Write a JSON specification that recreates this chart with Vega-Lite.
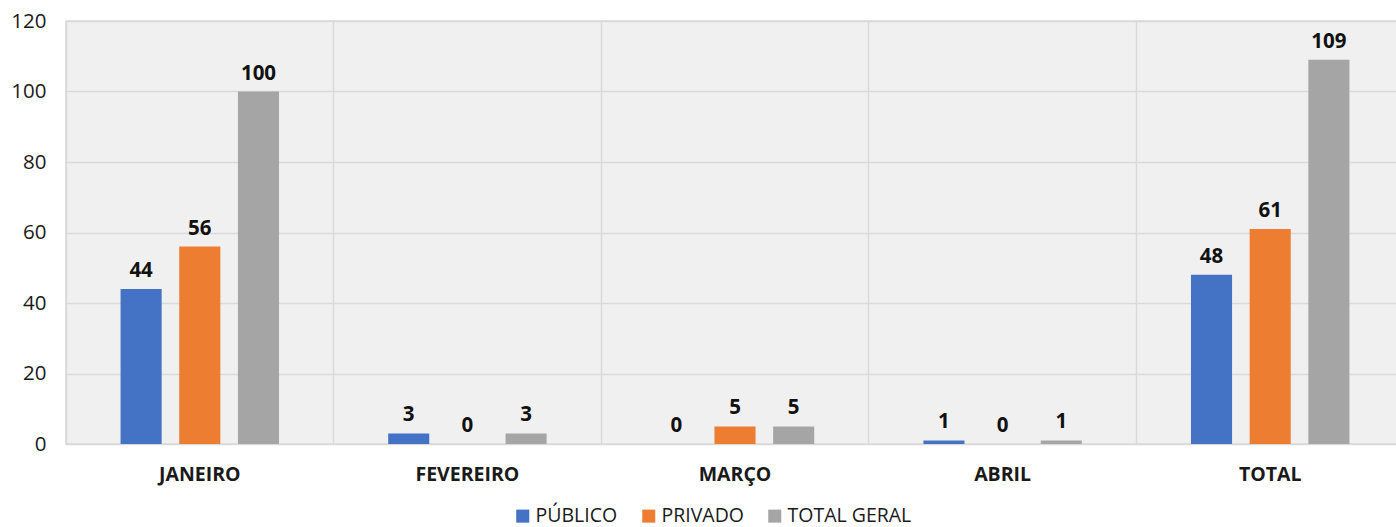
{
  "$schema": "https://vega.github.io/schema/vega-lite/v6.json",
  "autosize": "none",
  "width": 1338,
  "height": 423,
  "padding": {"left": 66, "top": 21, "right": 0, "bottom": 83},
  "background": "white",
  "config": {
    "font": "Open Sans",
    "view": {"fill": "#f0f0f0", "stroke": "#d9d9d9", "strokeWidth": 1.5}
  },
  "data": {
    "values": [
      {"mes": "JANEIRO", "serie": "PÚBLICO", "valor": 44},
      {"mes": "JANEIRO", "serie": "PRIVADO", "valor": 56},
      {"mes": "JANEIRO", "serie": "TOTAL GERAL", "valor": 100},
      {"mes": "FEVEREIRO", "serie": "PÚBLICO", "valor": 3},
      {"mes": "FEVEREIRO", "serie": "PRIVADO", "valor": 0},
      {"mes": "FEVEREIRO", "serie": "TOTAL GERAL", "valor": 3},
      {"mes": "MARÇO", "serie": "PÚBLICO", "valor": 0},
      {"mes": "MARÇO", "serie": "PRIVADO", "valor": 5},
      {"mes": "MARÇO", "serie": "TOTAL GERAL", "valor": 5},
      {"mes": "ABRIL", "serie": "PÚBLICO", "valor": 1},
      {"mes": "ABRIL", "serie": "PRIVADO", "valor": 0},
      {"mes": "ABRIL", "serie": "TOTAL GERAL", "valor": 1},
      {"mes": "TOTAL", "serie": "PÚBLICO", "valor": 48},
      {"mes": "TOTAL", "serie": "PRIVADO", "valor": 61},
      {"mes": "TOTAL", "serie": "TOTAL GERAL", "valor": 109}
    ]
  },
  "encoding": {
    "x": {
      "field": "mes",
      "type": "nominal",
      "sort": ["JANEIRO", "FEVEREIRO", "MARÇO", "ABRIL", "TOTAL"],
      "scale": {"paddingInner": 0, "paddingOuter": 0},
      "axis": {
        "title": null,
        "grid": true,
        "bandPosition": 0,
        "gridColor": "#d9d9d9",
        "gridWidth": 1.5,
        "domain": false,
        "ticks": false,
        "labelAngle": 0,
        "labelFontSize": 19.5,
        "labelFontWeight": "bold",
        "labelColor": "#1a1a1a",
        "labelPadding": 21
      }
    },
    "xOffset": {
      "field": "serie",
      "type": "nominal",
      "sort": ["PÚBLICO", "PRIVADO", "TOTAL GERAL"],
      "scale": {"paddingInner": 0.3, "paddingOuter": 0.93}
    },
    "y": {
      "field": "valor",
      "type": "quantitative",
      "scale": {"domain": [0, 120], "nice": false},
      "axis": {
        "title": null,
        "values": [0, 20, 40, 60, 80, 100, 120],
        "grid": true,
        "gridColor": "#d9d9d9",
        "gridWidth": 1.5,
        "domain": false,
        "ticks": false,
        "labelFontSize": 20.5,
        "labelColor": "#1a1a1a",
        "labelPadding": 20
      }
    }
  },
  "layer": [
    {
      "mark": {"type": "bar"},
      "encoding": {
        "color": {
          "field": "serie",
          "type": "nominal",
          "sort": ["PÚBLICO", "PRIVADO", "TOTAL GERAL"],
          "scale": {
            "domain": ["PÚBLICO", "PRIVADO", "TOTAL GERAL"],
            "range": ["#4472C4", "#ED7D31", "#A5A5A5"]
          },
          "legend": {
            "title": null,
            "orient": "none",
            "direction": "horizontal",
            "legendX": 447,
            "legendY": 485,
            "symbolType": "square",
            "symbolSize": 170,
            "symbolStrokeWidth": 0,
            "labelFontSize": 19.5,
            "labelColor": "#1a1a1a",
            "labelOffset": 3,
            "columnPadding": 21
          }
        }
      }
    },
    {
      "mark": {
        "type": "text",
        "baseline": "bottom",
        "dy": -8,
        "fontSize": 20.5,
        "fontWeight": "bold",
        "color": "#111111"
      },
      "encoding": {
        "text": {"field": "valor", "type": "quantitative"}
      }
    }
  ]
}
